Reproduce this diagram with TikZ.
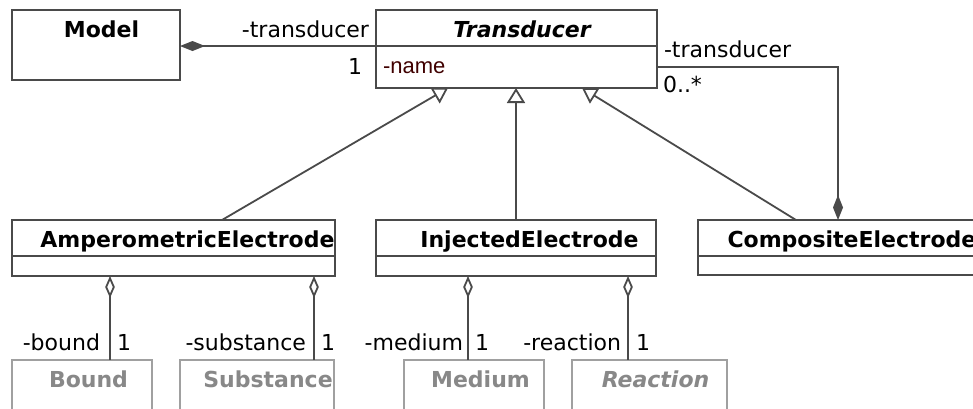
\documentclass[tikz,border=0pt]{standalone}
\usepackage{fontspec}
\setmainfont{DejaVu Sans}
\newfontfamily\attrfont{Liberation Sans}
\usetikzlibrary{arrows.meta,fit}
\definecolor{edge}{HTML}{4A4A4A}
\definecolor{ghost}{HTML}{A0A0A0}
\definecolor{ghosttext}{HTML}{888888}
\definecolor{attr}{HTML}{400000}

\begin{document}
\begin{tikzpicture}[x=0.5pt,y=-0.5pt,
  font=\fontsize{11}{13}\selectfont,
  every node/.style={inner sep=0pt, outer sep=0pt},
  classbox/.style={draw=edge, line width=0.9pt, fill=white},
  ghostbox/.style={draw=ghost, line width=0.9pt, fill=white},
  title/.style={anchor=base, font=\fontsize{11}{13}\selectfont\bfseries},
  ghosttitle/.style={title, text=ghosttext},
  lblE/.style={anchor=base east},
  lblW/.style={anchor=base west},
  conn/.style={draw=edge, line width=0.9pt},
  gen/.style={conn, -{Triangle[open, length=7.5pt, width=9pt]}},
  agg/.style={conn, {Diamond[open, length=11pt, width=4.8pt]}-},
  comp/.style={conn, {Diamond[length=12.5pt, width=5pt, fill=edge]}-},
]
\useasboundingbox (0,0) rectangle (973,408);
\clip (0,0) rectangle (973,408);

% class boxes: header and body compartments
\node[classbox, fit={(12,10) (180,80)}] (model) {};
\node[classbox, fit={(376,10) (657,46)}] (trhead) {};
\node[classbox, fit={(376,46) (657,88)}] (trbody) {};
\node[classbox, fit={(12,220) (335,256)}] (amphead) {};
\node[classbox, fit={(12,256) (335,276)}] (ampbody) {};
\node[classbox, fit={(376,220) (656,256)}] (injhead) {};
\node[classbox, fit={(376,256) (656,276)}] (injbody) {};
\node[classbox, fit={(698,220) (1000,256)}] (comphead) {};
\node[classbox, fit={(698,256) (1000,275)}] (compbody) {};

% referenced (external) classes
\node[ghostbox, fit={(12,360) (152,430)}] (bound) {};
\node[ghostbox, fit={(180,360) (334,430)}] (subst) {};
\node[ghostbox, fit={(404,360) (544,430)}] (medium) {};
\node[ghostbox, fit={(572,360) (727,430)}] (reaction) {};

% class names
\node[title] (tmodel) at (101.5,37) {Model};
\node[title, font=\fontsize{11}{13}\selectfont\bfseries\itshape] (ttrans) at (522,37) {Transducer};
\node[anchor=base west, text=attr, font=\attrfont\fontsize{11}{13}\selectfont] (tname) at (383,73) {-name};
\node[title] (tamp) at (187.5,247) {AmperometricElectrode};
\node[title] (tinj) at (529.5,247) {InjectedElectrode};
\node[title, anchor=base west] (tcomp) at (727.5,247) {CompositeElectrode};
\node[ghosttitle] (tbound) at (88.5,387) {Bound};
\node[ghosttitle] (tsubst) at (268,387) {Substance};
\node[ghosttitle] (tmedium) at (480.5,387) {Medium};
\node[ghosttitle, font=\fontsize{11}{13}\selectfont\bfseries\itshape] (treact) at (655.5,387) {Reaction};

% Model <>-- Transducer
\draw[comp] (model.east |- trbody.north) -- (trbody.north west);
\node[lblE] (lmt) at (369,37) {-transducer};
\node[lblE] (lmo) at (362,74) {1};

% CompositeElectrode <>-- Transducer
\coordinate (cdia) at (838,220);
\draw[comp] (cdia) |- (trbody.east);
\node[lblW] (lct) at (664,57) {-transducer};
\node[lblW] (lcm) at (663,92) {0..*};

% generalisations
\coordinate (ampTop) at (222,220);
\coordinate (genL) at (448,88);
\coordinate (compTop) at (796,220);
\coordinate (genR) at (582,88);
\draw[gen] (ampTop) -- (genL);
\draw[gen] (injhead.north) -- (injhead.north |- trbody.south);
\draw[gen] (compTop) -- (genR);

% aggregations
\coordinate (aBound) at (110,276);
\coordinate (aSubst) at (314,276);
\coordinate (aMedium) at (468,276);
\coordinate (aReact) at (628,276);
\draw[agg] (aBound) -- (aBound |- bound.north);
\draw[agg] (aSubst) -- (aSubst |- subst.north);
\draw[agg] (aMedium) -- (aMedium |- medium.north);
\draw[agg] (aReact) -- (aReact |- reaction.north);

\node[lblE] (lb) at (100,350) {-bound};
\node[lblW] (lb1) at (117,350) {1};
\node[lblE] (ls) at (306,350) {-substance};
\node[lblW] (ls1) at (321,350) {1};
\node[lblE] (lm) at (463,350) {-medium};
\node[lblW] (lm1) at (475,350) {1};
\node[lblE] (lr) at (621,350) {-reaction};
\node[lblW] (lr1) at (636,350) {1};
\end{tikzpicture}
\end{document}
